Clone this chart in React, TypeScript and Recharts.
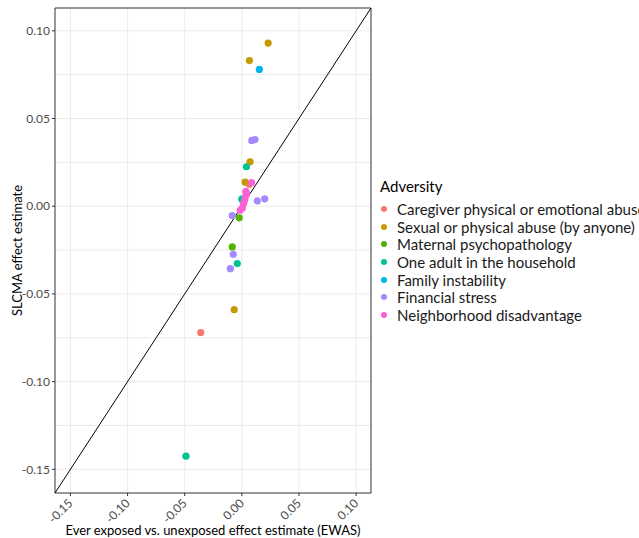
import React from 'react';
import {
  ScatterChart,
  Scatter,
  XAxis,
  YAxis,
  CartesianGrid,
  ReferenceLine,
  ReferenceArea,
} from 'recharts';

const FONT = 'Lato, "Open Sans", sans-serif';

const categories = [
  'Caregiver physical or emotional abuse',
  'Sexual or physical abuse (by anyone)',
  'Maternal psychopathology',
  'One adult in the household',
  'Family instability',
  'Financial stress',
  'Neighborhood disadvantage',
];

const colors = ['#F8766D', '#C49A00', '#53B400', '#00C094', '#00B6EB', '#A58AFF', '#FB61D7'];

// [EWAS estimate, SLCMA estimate]
const caregiverAbuse = [[-0.036, -0.072], [0.0065, 0.0125]];
const sexualAbuse = [[0.023, 0.093], [0.0066, 0.083], [0.0072, 0.0253], [0.0029, 0.0137], [-0.0067, -0.059]];
const maternalPsych = [[-0.0023, -0.0066], [-0.0084, -0.0232]];
const oneAdult = [[0.004, 0.0225], [0.0, 0.004], [-0.004, -0.0327], [-0.0489, -0.1425]];
const familyInstability = [[0.0153, 0.078]];
const financialStress = [
  [0.0087, 0.0375], [0.0115, 0.038], [0.0135, 0.003], [0.02, 0.0042],
  [-0.0084, -0.0053], [-0.0075, -0.0274], [-0.0101, -0.0356],
];
const neighborhood = [
  [0.0085, 0.0135], [0.0035, 0.0085], [0.004, 0.007], [0.0032, 0.0055],
  [0.0025, 0.0035], [0.0015, 0.0015], [0.0005, -0.001], [-0.0015, -0.0023],
];

const seriesValues = [caregiverAbuse, sexualAbuse, maternalPsych, oneAdult, familyInstability, financialStress, neighborhood];

const ticks = [-0.15, -0.1, -0.05, 0, 0.05, 0.1];
const gridValues = [-0.15, -0.125, -0.1, -0.075, -0.05, -0.025, 0, 0.025, 0.05, 0.075, 0.1];
const lo = -0.1635;
const hi = 0.113;

const Dot = (props: any) => <circle cx={props.cx} cy={props.cy} r={3.6} fill={props.fill} />;

const XTick = ({ x, y, payload }: any) => (
  <text
    x={x + 3}
    y={y + 6}
    transform={`rotate(-45, ${x + 3}, ${y + 6})`}
    textAnchor="end"
    fill="#4d4d4d"
    fontSize={12}
    fontFamily={FONT}
  >
    {payload.value.toFixed(2)}
  </text>
);

export default function App() {
  return (
    <div style={{ position: 'absolute', left: 0, top: 0, width: 639, height: 538, background: '#fff', overflow: 'hidden' }}>
      <ScatterChart width={639} height={538} margin={{ top: 8, right: 268, bottom: 0, left: 0 }}>
        <CartesianGrid
          stroke="#ebebeb"
          horizontalValues={gridValues}
          verticalValues={gridValues}
        />
        <XAxis
          type="number"
          dataKey="x"
          domain={[lo, hi]}
          allowDataOverflow
          ticks={ticks}
          height={45}
          tick={<XTick />}
          tickSize={3}
          axisLine={false}
          tickLine={{ stroke: '#333' }}
          label={{
            value: 'Ever exposed vs. unexposed effect estimate (EWAS)',
            position: 'insideBottom',
            offset: 3,
            fill: '#000',
            fontSize: 13,
            fontFamily: FONT,
          }}
        />
        <YAxis
          type="number"
          dataKey="y"
          domain={[lo, hi]}
          allowDataOverflow
          ticks={ticks}
          width={55}
          tickFormatter={(v: number) => v.toFixed(2)}
          tick={{ fill: '#4d4d4d', fontSize: 12, fontFamily: FONT }}
          tickSize={3}
          axisLine={false}
          tickLine={{ stroke: '#333' }}
          label={{
            value: 'SLCMA effect estimate',
            angle: -90,
            position: 'insideLeft',
            offset: 17,
            style: { textAnchor: 'middle' },
            fill: '#000',
            fontSize: 13,
            fontFamily: FONT,
          }}
        />
        <ReferenceArea x1={lo} x2={hi} y1={lo} y2={hi} fill="none" stroke="#333" strokeWidth={1} ifOverflow="visible" />
        <ReferenceLine
          segment={[{ x: lo, y: lo }, { x: hi, y: hi }]}
          stroke="#000"
          strokeWidth={1}
          ifOverflow="visible"
        />
        {categories.map((name, i) => (
          <Scatter
            key={name}
            name={name}
            data={seriesValues[i].map(([x, y]) => ({ x, y }))}
            fill={colors[i]}
            shape={<Dot />}
            isAnimationActive={false}
          />
        ))}
      </ScatterChart>
      <div
        style={{
          position: 'absolute',
          left: 380,
          top: 177,
          fontFamily: FONT,
          fontSize: 15,
          color: '#000',
          whiteSpace: 'nowrap',
        }}
      >
        <div style={{ height: 23 }}>Adversity</div>
        {categories.map((name, i) => (
          <div key={name} style={{ height: 17.7, display: 'flex', alignItems: 'center' }}>
            <span
              style={{
                display: 'inline-block',
                width: 6,
                height: 6,
                borderRadius: 3,
                background: colors[i],
                marginLeft: 1,
                marginRight: 10,
              }}
            />
            <span style={{ color: '#1a1a1a' }}>{name}</span>
          </div>
        ))}
      </div>
    </div>
  );
}
